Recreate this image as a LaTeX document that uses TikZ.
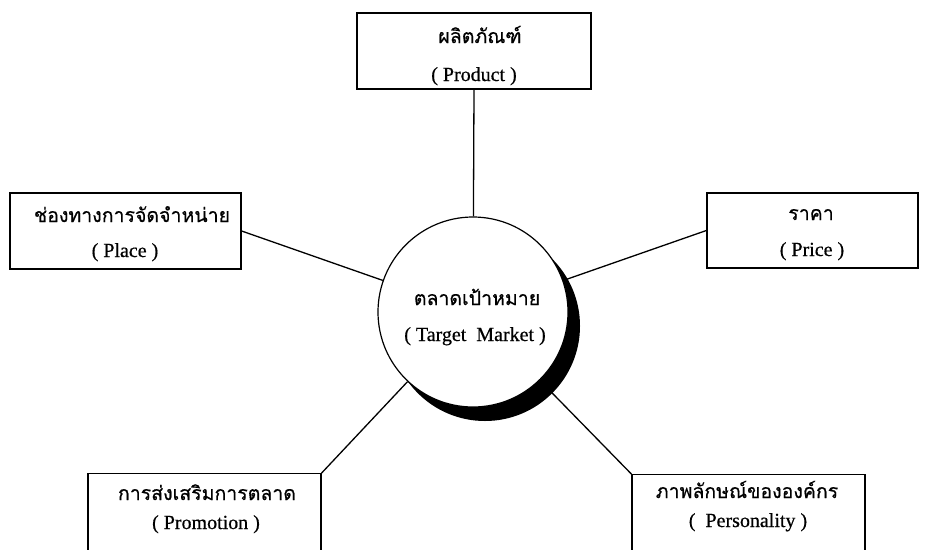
\documentclass[tikz,border=0pt]{standalone}
\usepackage{fontspec}
\setmainfont{Liberation Serif}[FakeBold=0.6]
\newfontfamily\thaifont[Script=Thai,FakeBold=0.6]{Loma}
\pgfdeclarelayer{background}
\pgfsetlayers{background,main}
\begin{document}
\begin{tikzpicture}[x=1pt,y=-1pt,
  box/.style={draw, line width=1.3pt, inner sep=0pt, minimum height=76pt},
  thaitxt/.style={anchor=base, inner sep=0pt, font=\thaifont\fontsize{19.5}{22}\selectfont},
  engtxt/.style={anchor=base, inner sep=0pt, font=\fontsize{20}{22}\selectfont},
  conn/.style={line width=1.3pt}
]
\useasboundingbox (0,0) rectangle (926,549);
\clip (0,0) rectangle (926,549);

% boxes
\node[box, minimum width=234pt] (prod) at (474,51) {};
\node[box, minimum width=231pt] (place) at (125.5,231) {};
\node[box, minimum width=211pt, minimum height=75pt] (price) at (812.5,230.5) {};
\node[box, minimum width=233pt, minimum height=130pt, anchor=north] (promo) at (204.5,473) {};
\node[box, minimum width=233pt, minimum height=130pt, anchor=north] (pers) at (748.5,474) {};

% circle and shadow
\node[circle, fill=black, minimum size=190pt, inner sep=0pt] (cs) at (485,326) {};
\node[circle, draw, line width=1.2pt, fill=white, minimum size=190pt, inner sep=0pt] (c) at (473,312) {};

% connectors
\begin{pgfonlayer}{background}
\draw[conn] (prod.south) -- (c);
\draw[conn] (place.east) -- (c);
\draw[conn] (price.west) -- (c);
\draw[conn] (promo.north east) -- (c);
\draw[conn] (pers.north west) -- (c);
\end{pgfonlayer}

% texts
\node[thaitxt] (prodT) at (480,43) {ผลิตภัณฑ์};
\node[engtxt] (prodE) at (474,81) {( Product )};
\node[thaitxt] (placeT) at (132,222) {ช่องทางการจัดจำหน่าย};
\node[engtxt] (placeE) at (125,257) {( Place )};
\node[thaitxt] (priceT) at (811,220) {ราคา};
\node[engtxt] (priceE) at (812,256) {( Price )};
\node[thaitxt] (promoT) at (207,500) {การส่งเสริมการตลาด};
\node[engtxt] (promoE) at (206,529) {( Promotion )};
\node[thaitxt] (persT) at (747,498) {ภาพลักษณ์ขององค์กร};
\node[engtxt] (persE) at (748,527) {(\enspace Personality )};
\node[thaitxt] (cT) at (477,305) {ตลาดเป้าหมาย};
\node[engtxt] (cE) at (475,341) {( Target\enspace Market )};
\end{tikzpicture}
\end{document}
